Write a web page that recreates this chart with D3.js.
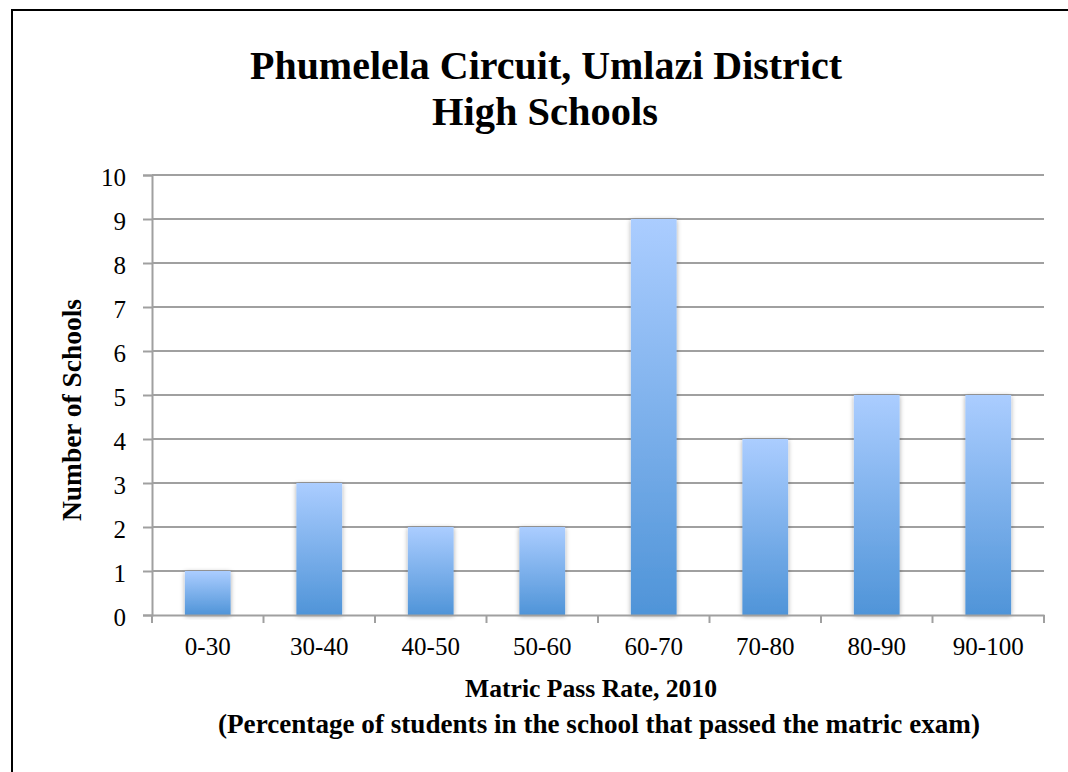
<!DOCTYPE html>
<html><head><meta charset="utf-8">
<script src="https://cdn.jsdelivr.net/npm/d3@7"></script>
<style>body{margin:0;background:#fff}svg{display:block}</style>
</head><body>
<script>
const categories = ["0-30","30-40","40-50","50-60","60-70","70-80","80-90","90-100"];
const counts = [1,3,2,2,9,4,5,5];
const yTicks = [0,1,2,3,4,5,6,7,8,9,10];
const titleLines = ["Phumelela Circuit, Umlazi District","High Schools"];
const xTitleLines = ["Matric Pass Rate, 2010","(Percentage of students in the school that passed the matric exam)"];
const yTitle = "Number of Schools";

const W=1068,H=772;
const svg=d3.select("body").append("svg").attr("width",W).attr("height",H);
const defs=svg.append("defs");
const g=defs.append("linearGradient").attr("id","barGrad").attr("x1",0).attr("y1",0).attr("x2",0).attr("y2",1);
g.append("stop").attr("offset","0%").attr("stop-color","#abcdff");
g.append("stop").attr("offset","100%").attr("stop-color","#4f94d8");
const f=defs.append("filter").attr("id","sh").attr("x","-30%").attr("y","-10%").attr("width","160%").attr("height","120%");
f.append("feGaussianBlur").attr("in","SourceAlpha").attr("stdDeviation",2.5).attr("result","b");
f.append("feOffset").attr("in","b").attr("dx",0).attr("dy",1).attr("result","o");
f.append("feComponentTransfer").attr("in","o").attr("result","o2").append("feFuncA").attr("type","linear").attr("slope",0.35);
const m=f.append("feMerge");m.append("feMergeNode").attr("in","o2");m.append("feMergeNode").attr("in","SourceGraphic");

svg.append("rect").attr("x",12).attr("y",10).attr("width",1200).attr("height",900)
  .attr("fill","#fff").attr("stroke","#000").attr("stroke-width",2);

const L=152,R=1044,T=175,B=615;
const x=d3.scaleBand().domain(categories).range([L,R]).paddingInner(0.59).paddingOuter(0.295);
const xb=d3.scaleBand().domain(categories).range([L,R]);
const y=d3.scaleLinear().domain([0,10]).range([B,T]);
const serif="'Liberation Serif','DejaVu Serif',serif";

// gridlines
svg.append("g").selectAll("line").data(yTicks.filter(d=>d>0)).join("line")
  .attr("x1",L).attr("x2",R).attr("y1",d=>y(d)).attr("y2",d=>y(d))
  .attr("stroke","#a0a0a0").attr("stroke-width",2);

// y axis
const ya=svg.append("g").attr("transform",`translate(${L},0)`)
  .call(d3.axisLeft(y).tickValues(yTicks).tickSize(9).tickPadding(17));
ya.select(".domain").attr("stroke","#a0a0a0").attr("stroke-width",2);
ya.selectAll(".tick line").attr("stroke","#a0a0a0").attr("stroke-width",2);
ya.selectAll(".tick text").attr("font-family",serif).attr("font-size",25).attr("fill","#000").attr("dy","0.4em");

// bars
svg.append("g").selectAll("rect").data(counts).join("rect")
  .attr("x",(d,i)=>x(categories[i])).attr("width",x.bandwidth())
  .attr("y",d=>y(d)).attr("height",d=>B-y(d))
  .attr("fill","url(#barGrad)").attr("filter","url(#sh)");

// x axis
const xa=svg.append("g").attr("transform",`translate(0,${B})`)
  .call(d3.axisBottom(xb).tickSize(0).tickPadding(22));
xa.select(".domain").attr("stroke","#a0a0a0").attr("stroke-width",2);
xa.selectAll(".tick text").attr("font-family",serif).attr("font-size",25).attr("fill","#000");
svg.append("g").selectAll("line").data(d3.range(categories.length+1)).join("line")
  .attr("x1",i=>L+i*xb.step()).attr("x2",i=>L+i*xb.step())
  .attr("y1",B).attr("y2",B+8).attr("stroke","#a0a0a0").attr("stroke-width",2);

// title
svg.append("text").attr("x",546).attr("y",79).attr("text-anchor","middle")
  .attr("font-family",serif).attr("font-weight","bold").attr("font-size",39)
  .attr("textLength",592).attr("lengthAdjust","spacingAndGlyphs").text(titleLines[0]);
svg.append("text").attr("x",545).attr("y",125).attr("text-anchor","middle")
  .attr("font-family",serif).attr("font-weight","bold").attr("font-size",39)
  .attr("textLength",226).attr("lengthAdjust","spacingAndGlyphs").text(titleLines[1]);

// x title
svg.append("text").attr("x",591).attr("y",697).attr("text-anchor","middle")
  .attr("font-family",serif).attr("font-weight","bold").attr("font-size",26)
  .attr("textLength",252).attr("lengthAdjust","spacingAndGlyphs").text(xTitleLines[0]);
svg.append("text").attr("x",599).attr("y",733).attr("text-anchor","middle")
  .attr("font-family",serif).attr("font-weight","bold").attr("font-size",28)
  .attr("textLength",762).attr("lengthAdjust","spacingAndGlyphs").text(xTitleLines[1]);

// y title
svg.append("text").attr("transform","translate(81,410) rotate(-90)").attr("text-anchor","middle")
  .attr("font-family",serif).attr("font-weight","bold").attr("font-size",28)
  .attr("textLength",222).attr("lengthAdjust","spacingAndGlyphs").text(yTitle);
</script>
</body></html>
